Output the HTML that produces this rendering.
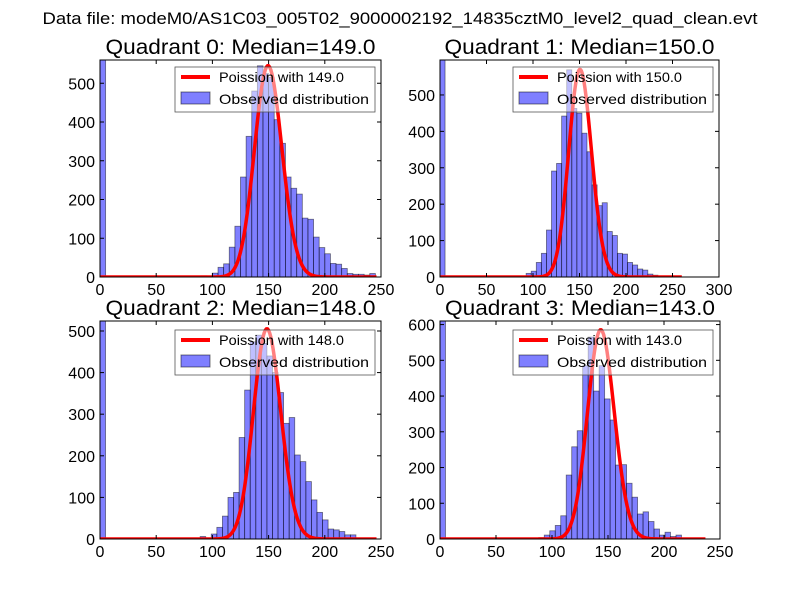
<!DOCTYPE html>
<html><head><meta charset="utf-8">
<style>
body{margin:0;background:#fff;}
svg{display:block;font-family:"Liberation Sans",sans-serif;}
</style></head>
<body>
<svg id="fig" width="800" height="600" xmlns="http://www.w3.org/2000/svg">
<rect width="800" height="600" fill="#fff"/>
<text x="400" y="24" text-anchor="middle" font-size="17" textLength="715" lengthAdjust="spacingAndGlyphs">Data file: modeM0/AS1C03_005T02_9000002192_14835cztM0_level2_quad_clean.evt</text>
</svg>
<script>
// Panel 0
const q0Counts = [3,0,10,25,34,77,131,258,363,480,545,525,515,406,345,258,229,214,152,149,103,76,60,35,33,22,9,7,7,5,9];
const q0FirstBin = 18; const q0Zero = 560; const q0Width = 5; const q0Median = 149; const q0Peak = 545; const q0CurveEnd = 246;
// Panel 1
const q1Counts = [10,16,40,65,129,291,312,442,569,463,450,395,344,253,196,204,125,114,65,63,40,33,22,19,8,5];
const q1FirstBin = 17; const q1Zero = 596; const q1Width = 5.45; const q1Median = 150; const q1Peak = 570; const q1CurveEnd = 260;
// Panel 2
const q2Counts = [6,0,12,28,55,100,112,244,358,474,490,470,440,400,352,278,292,202,186,138,94,64,46,24,22,18,10,10];
const q2FirstBin = 18; const q2Zero = 524; const q2Width = 4.95; const q2Median = 148; const q2Peak = 505; const q2CurveEnd = 246;
// Panel 3
const q3Counts = [4,11,23,38,65,179,258,303,485,565,414,485,392,333,207,208,156,117,70,76,49,28,11,19,7,11];
const q3FirstBin = 18; const q3Zero = 610; const q3Width = 4.9; const q3Median = 143; const q3Peak = 585; const q3CurveEnd = 237;
// Axes
const q0YTicks = [0,100,200,300,400,500];
const q1YTicks = [0,100,200,300,400,500];
const q2YTicks = [0,100,200,300,400,500];
const q3YTicks = [0,100,200,300,400,500,600];
const q0XTicks = [0,50,100,150,200,250];
const q1XTicks = [0,50,100,150,200,250,300];
const q2XTicks = [0,50,100,150,200,250];
const q3XTicks = [0,50,100,150,200,250];

const NS="http://www.w3.org/2000/svg";
const svg=document.getElementById('fig');
function mk(tag,attrs,parent){const e=document.createElementNS(NS,tag);for(const k in attrs)e.setAttribute(k,attrs[k]);(parent||svg).appendChild(e);return e;}
function lgam(n){if(n<2)return 0;return n*Math.log(n)-n+0.5*Math.log(2*Math.PI/n)+1/(12*n);}
function logpmf(k,m){return k*Math.log(m)-m-lgam(k);}

const panels=[
 {id:0,L:100,R:381,T:60,B:277,xmax:250,ymax:560,counts:q0Counts,fb:q0FirstBin,zero:q0Zero,w:q0Width,med:q0Median,peak:q0Peak,end:q0CurveEnd,yt:q0YTicks,xt:q0XTicks,lx:175,ly:67},
 {id:1,L:440,R:719,T:60,B:277,xmax:300,ymax:596,counts:q1Counts,fb:q1FirstBin,zero:q1Zero,w:q1Width,med:q1Median,peak:q1Peak,end:q1CurveEnd,yt:q1YTicks,xt:q1XTicks,lx:513,ly:67},
 {id:2,L:100,R:381,T:321,B:539,xmax:250,ymax:524,counts:q2Counts,fb:q2FirstBin,zero:q2Zero,w:q2Width,med:q2Median,peak:q2Peak,end:q2CurveEnd,yt:q2YTicks,xt:q2XTicks,lx:175,ly:330},
 {id:3,L:440,R:720,T:321,B:539,xmax:250,ymax:610,counts:q3Counts,fb:q3FirstBin,zero:q3Zero,w:q3Width,med:q3Median,peak:q3Peak,end:q3CurveEnd,yt:q3YTicks,xt:q3XTicks,lx:513,ly:330}
];
panels.forEach(p=>{
 const g=mk('g',{});
 
 
 const xs=v=>p.L+(p.R-p.L)*v/p.xmax;
 const ys=v=>p.B-(p.B-p.T)*Math.min(v,p.ymax)/p.ymax;
 const clip=mk('clipPath',{id:'c'+p.id},g);
 mk('rect',{x:p.L,y:p.T,width:p.R-p.L,height:p.B-p.T},clip);
 const plot=mk('g',{'clip-path':'url(#c'+p.id+')'},g);
 const bars=[[0,p.zero]];
 p.counts.forEach((c,i)=>bars.push([p.fb+i,c]));
 bars.forEach(([k,c])=>{
  if(c<=0)return;
  const r=mk('rect',{x:xs(k*p.w),y:ys(c),width:xs((k+1)*p.w)-xs(k*p.w),height:p.B-ys(c),fill:'rgba(0,0,255,0.5)',stroke:'rgba(0,0,0,0.5)','stroke-width':0.8},plot);
  
  
 });
 let d='';const lp=logpmf(p.med,p.med);
 for(let x=0;x<=p.end;x++){const v=p.peak*Math.exp(logpmf(x,p.med)-lp);d+=(x?'L':'M')+xs(x).toFixed(2)+','+ys(v).toFixed(2);}
 const ln=mk('path',{d:d,fill:'none',stroke:'#ff0000','stroke-width':3.5,'stroke-linejoin':'round'},plot);
 
 
 const fr=mk('rect',{x:p.L,y:p.T,width:p.R-p.L,height:p.B-p.T,fill:'none',stroke:'#000','stroke-width':1},g);
 
 
 p.xt.forEach(t=>{
  const x=xs(t);
  mk('line',{x1:x,y1:p.B,x2:x,y2:p.B-4,stroke:'#000'},g);
  mk('line',{x1:x,y1:p.T,x2:x,y2:p.T+4,stroke:'#000'},g);
  const tx=mk('text',{x:x,y:p.B+18,'text-anchor':'middle','font-size':16},g);tx.textContent=t;
  
  
 });
 p.yt.forEach(t=>{
  const y=ys(t);
  mk('line',{x1:p.L,y1:y,x2:p.L+4,y2:y,stroke:'#000'},g);
  mk('line',{x1:p.R,y1:y,x2:p.R-4,y2:y,stroke:'#000'},g);
  const tx=mk('text',{x:p.L-5,y:y+6,'text-anchor':'end','font-size':16},g);tx.textContent=t;
  
  
 });
 const ti=mk('text',{x:(p.L+p.R)/2,y:p.T-6,'text-anchor':'middle','font-size':21,textLength:270,lengthAdjust:'spacingAndGlyphs'},g);
 ti.textContent='Quadrant '+p.id+': Median='+p.med.toFixed(1);
 
 
 const lg=mk('g',{},g);
 
 
 mk('rect',{x:p.lx,y:p.ly,width:200,height:45,fill:'rgba(255,255,255,0.5)',stroke:'#555','stroke-width':0.8},lg);
 mk('line',{x1:p.lx+6,y1:p.ly+10,x2:p.lx+35,y2:p.ly+10,stroke:'red','stroke-width':4},lg);
 const t1=mk('text',{x:p.lx+44,y:p.ly+15,'font-size':14,textLength:125,lengthAdjust:'spacingAndGlyphs'},lg);t1.textContent='Poission with '+p.med.toFixed(1);
 
 
 mk('rect',{x:p.lx+6,y:p.ly+25,width:29,height:12,fill:'rgba(0,0,255,0.5)',stroke:'rgba(0,0,0,0.5)'},lg);
 const t2=mk('text',{x:p.lx+44,y:p.ly+37,'font-size':14,textLength:150,lengthAdjust:'spacingAndGlyphs'},lg);t2.textContent='Observed distribution';
 
 
});
</script>
</body></html>
